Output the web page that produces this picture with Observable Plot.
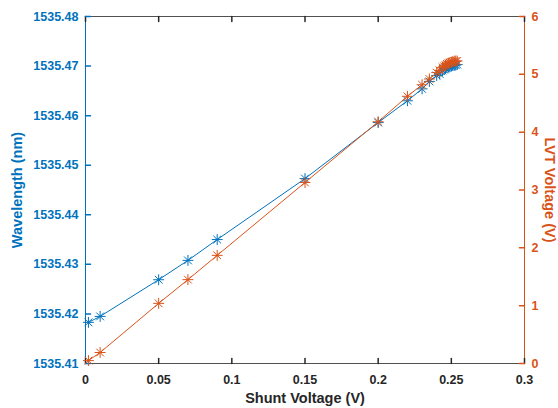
<!DOCTYPE html>
<html>
<head>
<meta charset="utf-8">
<script src="https://cdn.jsdelivr.net/npm/d3@7"></script>
<script src="https://cdn.jsdelivr.net/npm/@observablehq/plot@0.6"></script>
<style>
  html, body { margin: 0; padding: 0; background: #fff; }
  #chart svg { display: block; }
</style>
</head>
<body>
<div id="chart"></div>
<script>
// ---- data ----
const shuntVoltage = [0.002, 0.01, 0.05, 0.07, 0.09, 0.15, 0.2, 0.22, 0.23, 0.235, 0.24, 0.242, 0.244, 0.245, 0.246, 0.247, 0.248, 0.249, 0.25, 0.251, 0.252, 0.253, 0.254];
const wavelength = [1535.4183, 1535.4195, 1535.4269, 1535.4308, 1535.4350, 1535.4473, 1535.4586, 1535.4630, 1535.4654, 1535.4669, 1535.4681, 1535.4684, 1535.4691, 1535.4693, 1535.4695, 1535.4697, 1535.4698, 1535.4699, 1535.4700, 1535.4701, 1535.4702, 1535.4702, 1535.4703];
const lvtVoltage = [0.05, 0.19, 1.04, 1.45, 1.87, 3.13, 4.18, 4.62, 4.82, 4.92, 5.03, 5.07, 5.12, 5.14, 5.16, 5.18, 5.19, 5.20, 5.21, 5.22, 5.23, 5.23, 5.23];
const xTicks = [0, 0.05, 0.1, 0.15, 0.2, 0.25, 0.3];
const leftTicks = [1535.41, 1535.42, 1535.43, 1535.44, 1535.45, 1535.46, 1535.47, 1535.48];
const rightTicks = [0, 1, 2, 3, 4, 5, 6];
const xDomain = [0, 0.3];
const yDomain = [1535.41, 1535.48];
const rightDomain = [0, 6];
const xLabel = "Shunt Voltage (V)";
const leftLabel = "Wavelength (nm)";
const rightLabel = "LVT Voltage (V)";

// ---- styles ----
const blue = "#0072BD";
const orange = "#D95319";
const dark = "#262626";
const font = "Arial, 'Liberation Sans', Helvetica, sans-serif";

// map right-axis values onto the left y scale
const k = (yDomain[1] - yDomain[0]) / (rightDomain[1] - rightDomain[0]);
const toY = v => yDomain[0] + (v - rightDomain[0]) * k;

const blueData = shuntVoltage.map((x, i) => ({x, y: wavelength[i]}));
const orangeData = shuntVoltage.map((x, i) => ({x, y: toY(lvtVoltage[i])}));

const tickShape = { draw(context, l) { context.moveTo(0, 0); context.lineTo(0, -l); } };

function starMarks(data, color) {
  return [
    Plot.line(data, {x: "x", y: "y", stroke: color, strokeWidth: 1}),
    Plot.dot(data, {x: "x", y: "y", symbol: "plus", r: 3.6, stroke: color, strokeWidth: 1}),
    Plot.dot(data, {x: "x", y: "y", symbol: "times", r: 3.6, stroke: color, strokeWidth: 1})
  ];
}

const chart = Plot.plot({
  width: 558,
  height: 408,
  marginLeft: 85,
  marginRight: 34,
  marginTop: 16,
  marginBottom: 45,
  style: {fontFamily: font, fontSize: "12.5px", background: "#fff"},
  x: {domain: xDomain, axis: null},
  y: {domain: yDomain, axis: null},
  marks: [
    // frame lines
    Plot.ruleY([yDomain[1]], {stroke: dark, strokeWidth: 1, strokeOpacity: 0.8}),
    Plot.ruleY([yDomain[0]], {stroke: dark, strokeWidth: 1, strokeOpacity: 0.8}),
    Plot.ruleX([xDomain[0]], {stroke: blue, strokeWidth: 1}),
    Plot.ruleX([xDomain[1]], {stroke: orange, strokeWidth: 1}),
    // inward ticks
    Plot.vector(xTicks, {x: d => d, y: () => yDomain[0], length: 5, rotate: 0, anchor: "start", shape: tickShape, stroke: dark}),
    Plot.vector(xTicks, {x: d => d, y: () => yDomain[1], length: 5, rotate: 180, anchor: "start", shape: tickShape, stroke: dark}),
    Plot.vector(leftTicks, {x: () => xDomain[0], y: d => d, length: 5, rotate: 90, anchor: "start", shape: tickShape, stroke: blue}),
    Plot.vector(rightTicks, {x: () => xDomain[1], y: d => toY(d), length: 5, rotate: 270, anchor: "start", shape: tickShape, stroke: orange}),
    // tick labels
    Plot.text(xTicks, {x: d => d, y: () => yDomain[0], text: d => String(d), dy: 16, fill: dark, fontWeight: "bold", fontSize: 12.5}),
    Plot.text(leftTicks, {x: () => xDomain[0], y: d => d, text: d => d.toFixed(2), dx: -7, textAnchor: "end", fill: blue, fontWeight: "bold", fontSize: 12.5}),
    Plot.text(rightTicks, {x: () => xDomain[1], y: d => toY(d), text: d => String(d), dx: 7, textAnchor: "start", fill: orange, fontWeight: "bold", fontSize: 12.5}),
    // axis titles
    Plot.text([xLabel], {frameAnchor: "bottom", dy: 35, textAnchor: "middle", lineAnchor: "middle", text: d => d, fill: dark, fontWeight: "bold", fontSize: 14.5}),
    Plot.text([leftLabel], {frameAnchor: "left", dx: -68, rotate: -90, textAnchor: "middle", lineAnchor: "middle", text: d => d, fill: blue, fontWeight: "bold", fontSize: 14.5}),
    Plot.text([rightLabel], {frameAnchor: "right", dx: 25, rotate: 90, textAnchor: "middle", lineAnchor: "middle", text: d => d, fill: orange, fontWeight: "bold", fontSize: 14.5}),
    // data
    ...starMarks(blueData, blue),
    ...starMarks(orangeData, orange)
  ]
});

document.getElementById("chart").appendChild(chart);
</script>
</body>
</html>
